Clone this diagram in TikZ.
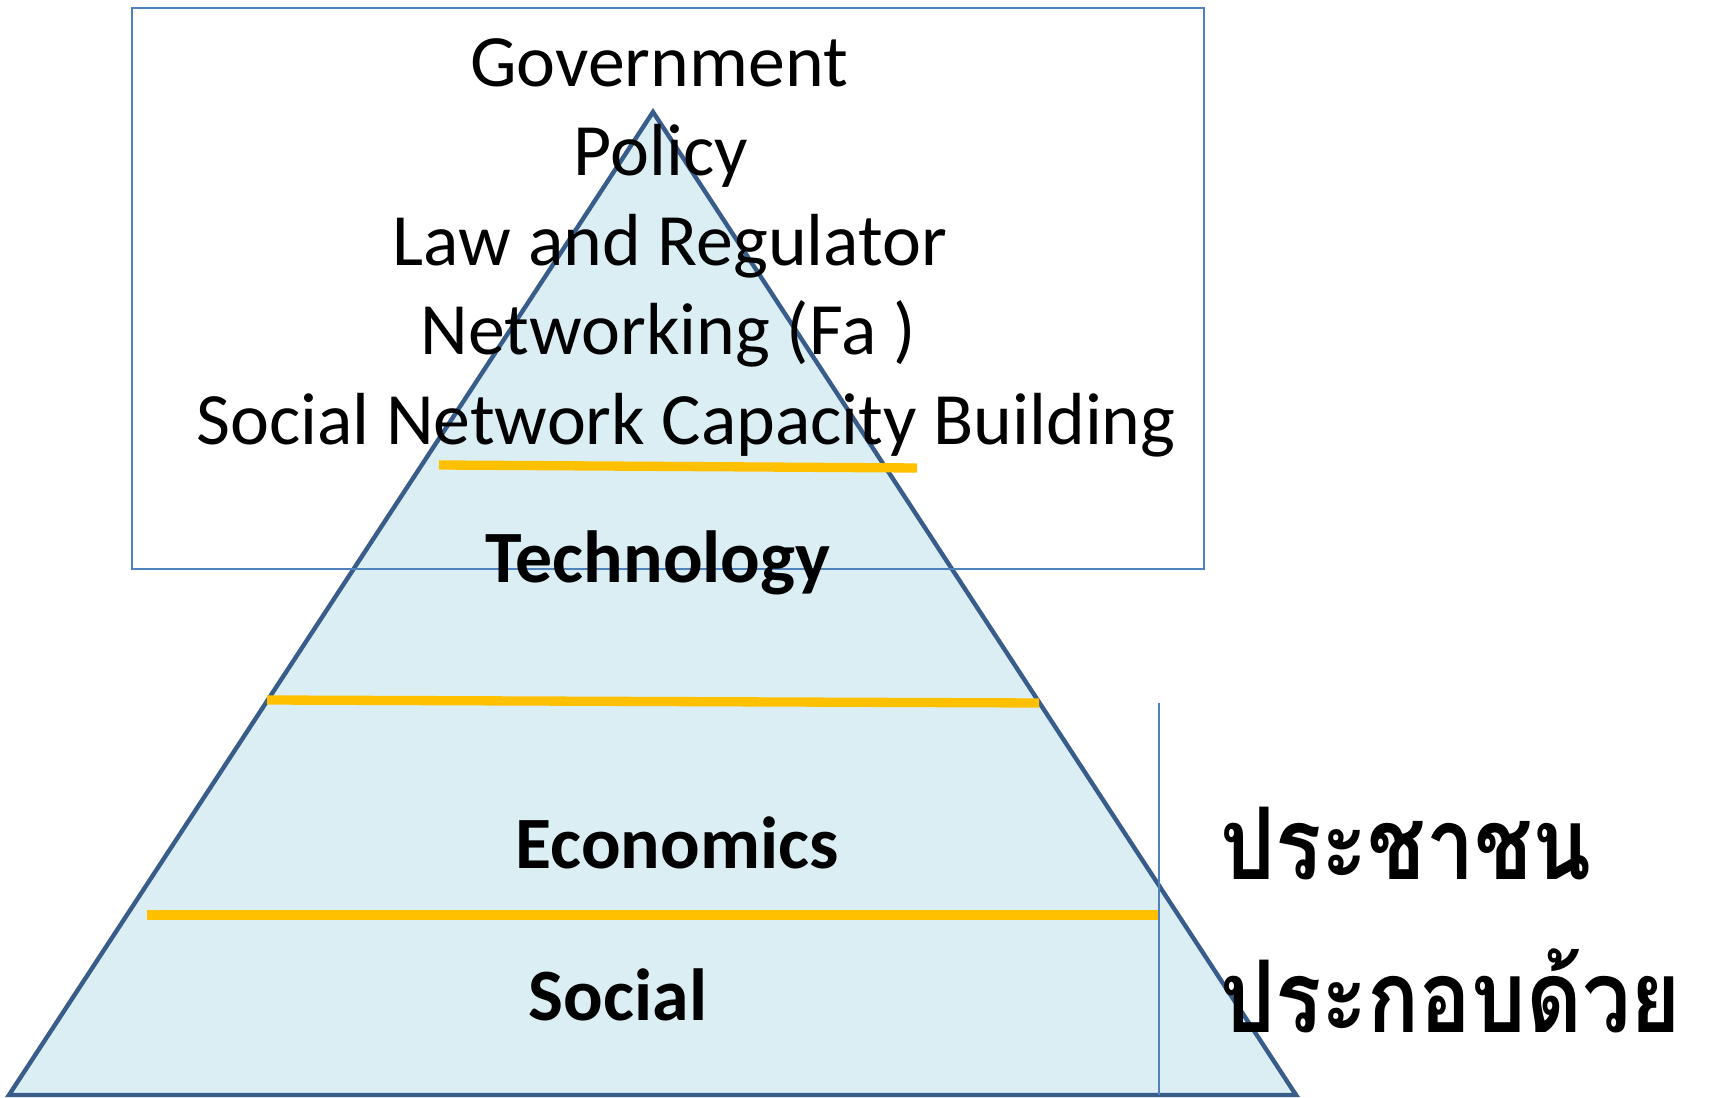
\documentclass[tikz,border=0pt]{standalone}
\usepackage{fontspec}
\setmainfont{Carlito}
\newfontfamily\thaifont[Script=Thai,FakeStretch=0.86]{Loma}
\usetikzlibrary{calc}
\definecolor{pyrline}{HTML}{385D8A}
\definecolor{pyrfill}{HTML}{DBEEF4}
\definecolor{boxline}{HTML}{4F81BD}
\definecolor{bandline}{HTML}{FFC000}

\begin{document}
\begin{tikzpicture}[
	toptext/.style={anchor=base,font=\fontsize{42}{50}\selectfont,inner sep=0pt},
	layertext/.style={anchor=base,font=\fontsize{42}{50}\selectfont\bfseries,inner sep=0pt},
	thaitext/.style={anchor=base west,font=\fontsize{57}{60}\selectfont\thaifont\bfseries,inner sep=0pt},
	band/.style={bandline,line width=5.3pt},
	thin/.style={boxline,line width=0.9pt}]
	\useasboundingbox (0,0) rectangle (34.30,21.94);
	% pyramid
	\coordinate (apex) at (13.06,19.70);
	\coordinate (bl) at (0.18,0.04);
	\coordinate (br) at (25.92,0.04);
	\filldraw[fill=pyrfill,draw=pyrline,line width=2.5pt] (apex) -- (bl) -- (br) -- cycle;
	% bands
	\draw[band] (8.78,12.64) -- (18.34,12.58);
	\draw[band] (5.34,7.94) -- (20.78,7.88);
	\draw[band] (2.94,3.64) -- (23.16,3.64);
	\draw[thin] (23.18,7.88) -- (23.18,0.04);
	% text box
	\draw[thin] (2.64,21.78) rectangle (24.08,10.56);
	\node[toptext] (gov) at (13.18,20.20) {Government};
	\node[toptext] (pol) at (13.22,18.42) {Policy};
	\node[toptext] (law) at (13.40,16.62) {Law and Regulator};
	\node[toptext] (net) at (13.36,14.84) {Networking (Fa )};
	\node[toptext] (snc) at (13.72,13.04) {Social Network Capacity Building};
	% layers
	\node[layertext] (tech) at (13.16,10.28) {Technology};
	\node[layertext] (eco) at (13.54,4.56) {Economics};
	\node[layertext] (soc) at (12.36,1.54) {Social};
	% people
	\node[thaitext] (people) at (24.40,4.34) {ประชาชน};
	\node[thaitext] (consist) at (24.40,1.30) {ประกอบด้วย};
\end{tikzpicture}
\end{document}
